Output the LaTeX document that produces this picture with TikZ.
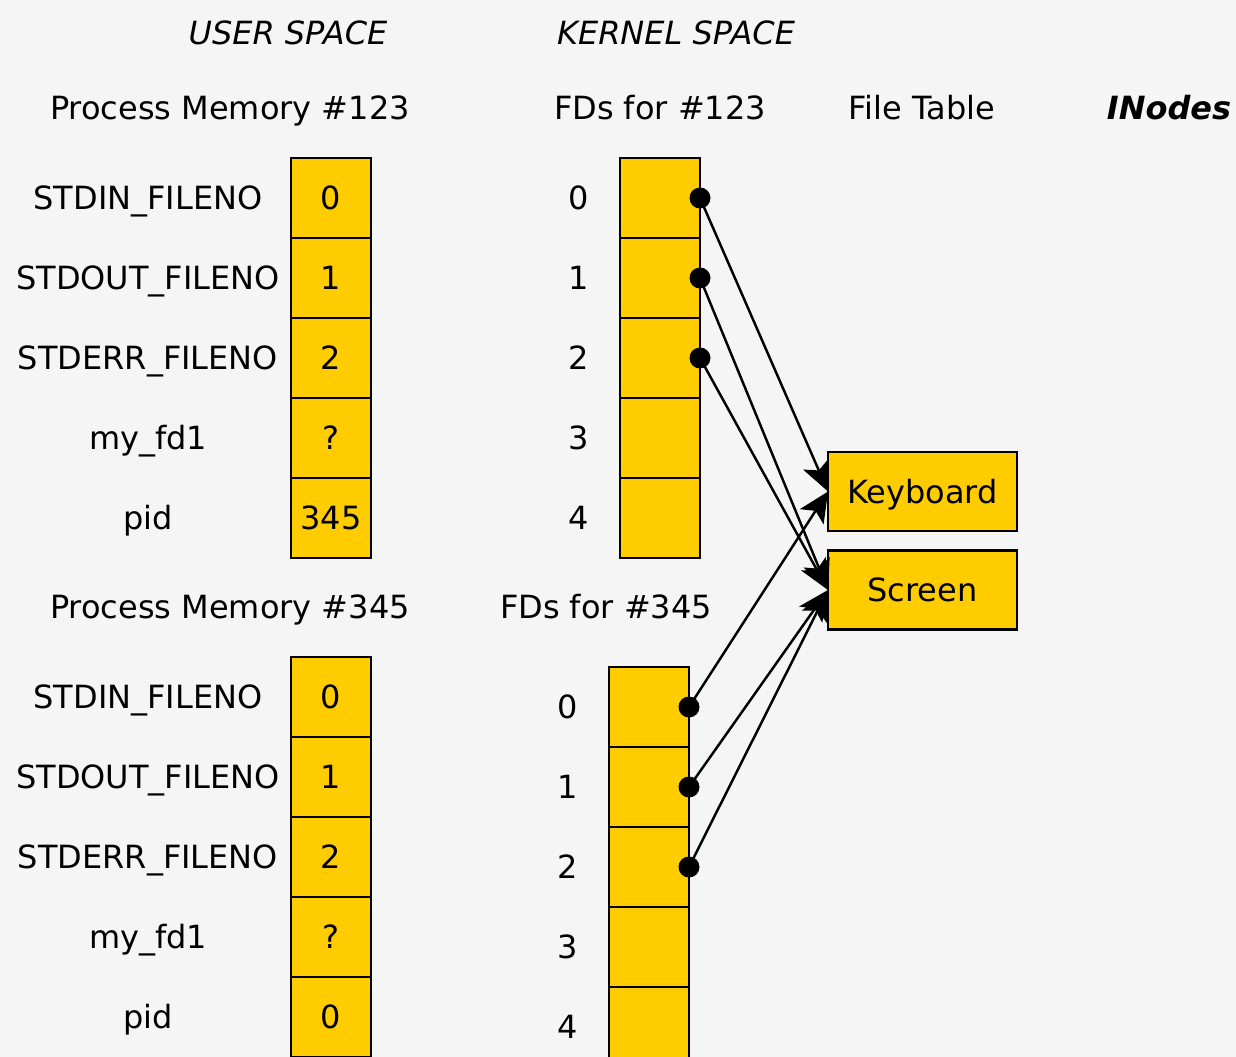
\documentclass[tikz,border=0pt]{standalone}
\usepackage{fontspec}
\setmainfont{DejaVu Sans}
\usetikzlibrary{arrows.meta}
\definecolor{bgcol}{HTML}{F5F5F5}
\definecolor{gold}{HTML}{FFCC00}
\tikzset{
  cell/.style={draw=black, fill=gold, line width=1.5pt, minimum width=1.6cm, minimum height=1.6cm, inner sep=0pt, outer sep=0pt},
  dev/.style={draw=black, fill=gold, line width=1.5pt, minimum width=3.78cm, minimum height=1.58cm, inner sep=0pt, outer sep=0pt},
  fdlink/.style={line width=1.4pt, -{Stealth[length=0.6cm, width=0.56cm, inset=0.14cm]}}
}

\begin{document}
\begin{tikzpicture}[x=0.02cm, y=-0.02cm, font=\fontsize{18.2}{22}\selectfont,
    every node/.append style={text height=13.2pt, text depth=0pt}]
            \fill[bgcol] (0,0) rectangle (1236,1057);
            \clip (0,0) rectangle (1236,1057);
            \useasboundingbox (0,0) rectangle (1236,1057);

            \node (user) at (288, 33) {\itshape USER SPACE};
            \node (kernel) at (676, 33) {\itshape KERNEL SPACE};
            \node (pmemA) at (230,108) {Process Memory \#123};
            \node (fdsA) at (660,108) {FDs for \#123};
            \node (ftab) at (922,108) {File Table};
            \node (inodes) at (1169,108) {\bfseries\itshape INodes};
            \node (pmemB) at (230,607) {Process Memory \#345};
            \node (fdsB) at (606,607) {FDs for \#345};

            \node[cell] (pa0) at (331, 198) {0};
            \node[cell] (pa1) at (331, 278) {1};
            \node[cell] (pa2) at (331, 358) {2};
            \node[cell] (pa3) at (331, 438) {?};
            \node[cell] (pa4) at (331, 518) {345};
            \node (la0) at (148, 198) {STDIN\_FILENO};
            \node (la1) at (148, 278) {STDOUT\_FILENO};
            \node (la2) at (148, 358) {STDERR\_FILENO};
            \node (la3) at (148, 438) {my\_fd1};
            \node (la4) at (148, 518) {pid};

            \node[cell] (pb0) at (331, 697) {0};
            \node[cell] (pb1) at (331, 777) {1};
            \node[cell] (pb2) at (331, 857) {2};
            \node[cell] (pb3) at (331, 937) {?};
            \node[cell] (pb4) at (331,1017) {0};
            \node (lb0) at (148, 697) {STDIN\_FILENO};
            \node (lb1) at (148, 777) {STDOUT\_FILENO};
            \node (lb2) at (148, 857) {STDERR\_FILENO};
            \node (lb3) at (148, 937) {my\_fd1};
            \node (lb4) at (148,1017) {pid};

            \node[cell] (fa0) at (660, 198) {};
            \node[cell] (fa1) at (660, 278) {};
            \node[cell] (fa2) at (660, 358) {};
            \node[cell] (fa3) at (660, 438) {};
            \node[cell] (fa4) at (660, 518) {};
            \node (na0) at (579, 198) {0};
            \node (na1) at (579, 278) {1};
            \node (na2) at (579, 358) {2};
            \node (na3) at (579, 438) {3};
            \node (na4) at (579, 518) {4};

            \node[cell] (fb0) at (649, 707) {};
            \node[cell] (fb1) at (649, 787) {};
            \node[cell] (fb2) at (649, 867) {};
            \node[cell] (fb3) at (649, 947) {};
            \node[cell] (fb4) at (649,1027) {};
            \node (nb0) at (568, 707) {0};
            \node (nb1) at (568, 787) {1};
            \node (nb2) at (568, 867) {2};
            \node (nb3) at (568, 947) {3};
            \node (nb4) at (568,1027) {4};

            \node[dev] (kbd) at (922.5,491.5) {Keyboard};
            \node[dev] (scr) at (922.5,590) {Screen};

            \draw[fdlink] (fa0.east) -- (kbd.west);
            \draw[fdlink] (fa1.east) -- (scr.west);
            \draw[fdlink] (fa2.east) -- (scr.west);
            \draw[fdlink] (fb0.east) -- (kbd.west);
            \draw[fdlink] (fb1.east) -- (scr.west);
            \draw[fdlink] (fb2.east) -- (scr.west);

            \fill (fa0.east) circle[radius=0.21cm];
            \fill (fa1.east) circle[radius=0.21cm];
            \fill (fa2.east) circle[radius=0.21cm];
            \fill (fb0.east) circle[radius=0.21cm];
            \fill (fb1.east) circle[radius=0.21cm];
            \fill (fb2.east) circle[radius=0.21cm];
        \end{tikzpicture}
\end{document}
